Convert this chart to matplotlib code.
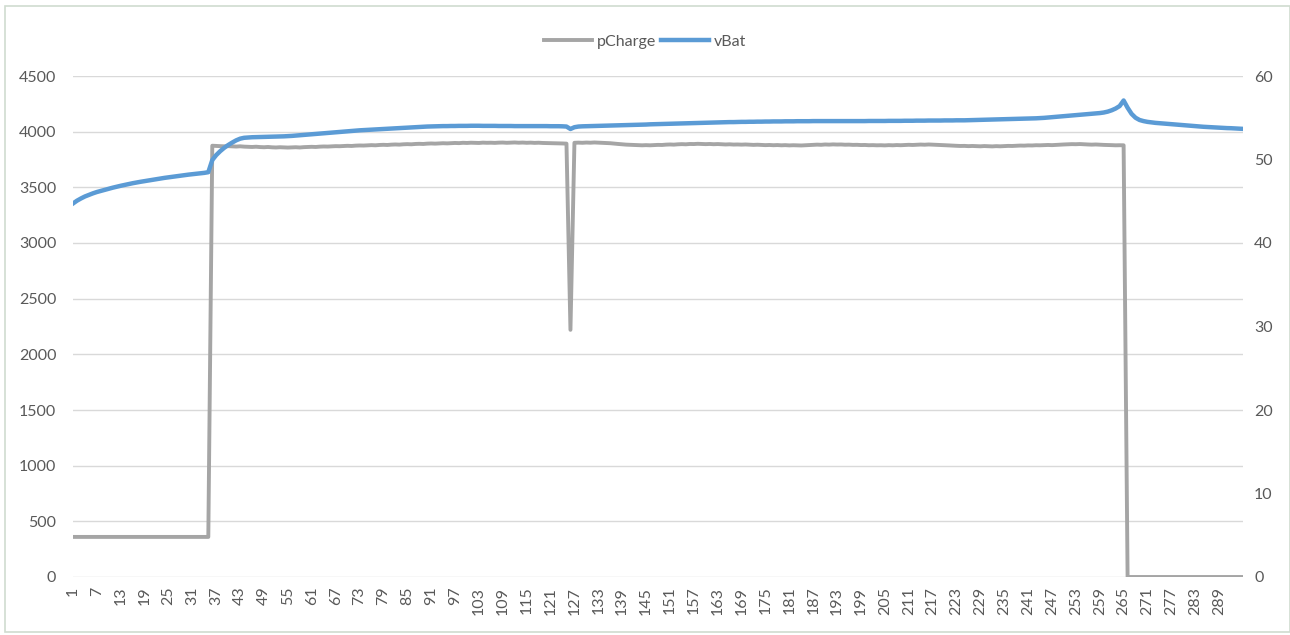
import numpy as np
import matplotlib
matplotlib.use("Agg")
from matplotlib import pyplot as plt
from matplotlib.patches import Rectangle

plt.rcParams['font.family'] = ['Lato', 'DejaVu Sans']

TEXT = '#595959'
GRID = '#D9D9D9'
BLUE = '#5B9BD5'
GRAY = '#A5A5A5'

# battery voltage (mV), left axis
vBat = [
    3355, 3380, 3400, 3418, 3432, 3446, 3458, 3468, 3478, 3488,
    3497, 3506, 3514, 3522, 3530, 3537, 3544, 3550, 3556, 3562,
    3568, 3574, 3580, 3585, 3590, 3595, 3600, 3605, 3610, 3614,
    3618, 3622, 3626, 3630, 3636,
    3745, 3790, 3825, 3855, 3880, 3902, 3922, 3937, 3945, 3948,
    3950, 3951, 3952, 3953, 3954, 3955, 3956, 3957, 3958, 3960,
    3962, 3965, 3968, 3971, 3974, 3977, 3980, 3983, 3986, 3989,
    3992, 3995, 3998, 4001, 4004, 4007, 4010, 4012, 4014, 4016,
    4018, 4020, 4022, 4024, 4026, 4028, 4030, 4032, 4034, 4036,
    4038, 4040, 4042, 4044, 4046, 4047, 4048, 4049, 4050, 4050,
    4051, 4051, 4052, 4052, 4052, 4053, 4053, 4053, 4052, 4052,
    4052, 4052, 4051, 4051, 4051, 4051, 4050, 4050, 4050, 4050,
    4050, 4050, 4050, 4050, 4050, 4049, 4049, 4049, 4048, 4046,
    4024,
    4040, 4046, 4048, 4049, 4050, 4051, 4052, 4053, 4054, 4055,
    4056, 4057, 4058, 4059, 4060, 4061, 4062, 4063, 4064, 4066,
    4067, 4068, 4069, 4070, 4071, 4072, 4073, 4074, 4075, 4076,
    4077, 4078, 4079, 4080, 4081, 4082, 4083, 4084, 4085, 4086,
    4086, 4087, 4088, 4088, 4089, 4089, 4090, 4090, 4091, 4091,
    4092, 4092, 4092, 4093, 4093, 4093, 4094, 4094, 4094, 4094,
    4095, 4095, 4095, 4095, 4095, 4095, 4095, 4095, 4095, 4095,
    4095, 4095, 4095, 4095, 4096, 4096, 4096, 4096, 4096, 4097,
    4097, 4097, 4097, 4098, 4098, 4098, 4099, 4099, 4099, 4100,
    4100, 4100, 4100, 4101, 4101, 4101, 4102, 4102, 4102, 4103,
    4104, 4105, 4106, 4107, 4108, 4109, 4110, 4111, 4112, 4113,
    4114, 4115, 4116, 4117, 4118, 4119, 4120, 4122, 4124, 4127,
    4130, 4132, 4135, 4138, 4141, 4144, 4147, 4150, 4153, 4156,
    4159, 4163, 4167, 4172, 4180, 4192, 4208, 4230, 4280,
    4215, 4160, 4125, 4105, 4095, 4088, 4083, 4079, 4076, 4072,
    4069, 4066, 4063, 4060, 4057, 4054, 4051, 4048, 4046, 4044,
    4042, 4040, 4038, 4036, 4034, 4032, 4031, 4029, 4027, 4025,
]

# charge power, right axis
pCharge = [
    4.80, 4.80, 4.81, 4.80, 4.80, 4.79, 4.80, 4.80, 4.81, 4.80,
    4.80, 4.80, 4.79, 4.80, 4.80, 4.80, 4.81, 4.80, 4.80, 4.80,
    4.80, 4.79, 4.80, 4.80, 4.81, 4.80, 4.80, 4.80, 4.79, 4.80,
    4.80, 4.80, 4.81, 4.80, 4.80,
    51.65, 51.62, 51.60, 51.58, 51.60, 51.57, 51.55, 51.58, 51.54, 51.52,
    51.50, 51.53, 51.49, 51.47, 51.50, 51.46, 51.44, 51.47, 51.45, 51.43,
    51.45, 51.47, 51.44, 51.48, 51.50, 51.52, 51.50, 51.54, 51.56, 51.55,
    51.58, 51.60, 51.59, 51.62, 51.64, 51.62, 51.66, 51.68, 51.67, 51.70,
    51.72, 51.70, 51.74, 51.76, 51.74, 51.78, 51.80, 51.78, 51.82, 51.84,
    51.82, 51.86, 51.88, 51.86, 51.90, 51.92, 51.90, 51.93, 51.95, 51.93,
    51.96, 51.98, 51.96, 52.00, 51.98, 52.01, 52.00, 51.98, 52.02, 52.00,
    52.01, 51.99, 52.02, 52.03, 52.00, 52.02, 52.04, 52.01, 52.03, 52.00,
    52.02, 51.99, 52.01, 51.98, 51.97, 51.95, 51.96, 51.93, 51.92, 51.90,
    29.6,
    52.00, 52.02, 52.00, 52.03, 52.01, 52.04, 52.02, 52.00, 51.98, 51.95,
    51.90, 51.86, 51.82, 51.78, 51.76, 51.73, 51.72, 51.70, 51.72, 51.70,
    51.72, 51.75, 51.74, 51.78, 51.80, 51.78, 51.82, 51.84, 51.82, 51.86,
    51.85, 51.88, 51.86, 51.84, 51.86, 51.83, 51.85, 51.82, 51.80, 51.82,
    51.79, 51.80, 51.78, 51.80, 51.77, 51.75, 51.77, 51.74, 51.72, 51.74,
    51.71, 51.73, 51.70, 51.72, 51.69, 51.71, 51.70, 51.68, 51.71, 51.73,
    51.75, 51.78, 51.76, 51.80, 51.78, 51.81, 51.79, 51.80, 51.77, 51.78,
    51.75, 51.76, 51.73, 51.74, 51.71, 51.72, 51.70, 51.71, 51.69, 51.72,
    51.70, 51.73, 51.71, 51.74, 51.76, 51.74, 51.77, 51.79, 51.77, 51.80,
    51.78, 51.76, 51.74, 51.71, 51.69, 51.66, 51.64, 51.62, 51.63, 51.60,
    51.62, 51.60, 51.58, 51.61, 51.59, 51.57, 51.60, 51.58, 51.61, 51.63,
    51.62, 51.65, 51.67, 51.66, 51.69, 51.68, 51.71, 51.70, 51.72, 51.74,
    51.72, 51.75, 51.77, 51.80, 51.82, 51.84, 51.83, 51.85, 51.82, 51.80,
    51.78, 51.80, 51.77, 51.75, 51.74, 51.72, 51.70, 51.71, 51.70,
    0, 0, 0, 0, 0, 0, 0, 0, 0, 0,
    0, 0, 0, 0, 0, 0, 0, 0, 0, 0,
    0, 0, 0, 0, 0, 0, 0, 0, 0, 0,
]

left_ticks = [0, 500, 1000, 1500, 2000, 2500, 3000, 3500, 4000, 4500]
right_ticks = [0, 10, 20, 30, 40, 50, 60]

n = len(vBat)
x = np.arange(1, n + 1)
xticks = np.arange(1, n, 6)   # 1, 7, ... 289

fig = plt.figure(figsize=(12.9, 6.35), dpi=100)
fig.patches.append(Rectangle((5 / 1290, 0.004), 1 - 5 / 1290, 1 - 6 / 635 - 0.004,
                             transform=fig.transFigure, fill=False,
                             edgecolor='#D0DCD0', linewidth=1.2))

ax = fig.add_axes([73 / 1290, 1 - 577 / 635, (1243 - 73) / 1290, (577 - 76) / 635])
ax2 = ax.twinx()

ax.set_ylim(0, 4500)
ax.set_yticks(left_ticks)
ax2.set_ylim(0, 60)
ax2.set_yticks(right_ticks)
ax.set_xlim(1, n)
ax.set_xticks(xticks)
ax.set_xticklabels([str(v) for v in xticks], rotation=90, va='top')

ax.grid(axis='y', color=GRID, linewidth=1)
ax.set_axisbelow(True)
for a in (ax, ax2):
    for s in a.spines.values():
        s.set_visible(False)
    a.tick_params(length=0, colors=TEXT, labelsize=11.5)
ax.tick_params(axis='y', pad=12)
ax.tick_params(axis='x', pad=7)
ax2.tick_params(axis='y', pad=8)

l1, = ax2.plot(x, pCharge, color=GRAY, linewidth=2.8, solid_joinstyle='round', label='pCharge')
l2, = ax2.plot(x, np.array(vBat) * 60 / 4500, color=BLUE, linewidth=3.2,
               solid_joinstyle='round', label='vBat')

fig.legend(handles=[l1, l2], loc='upper center', bbox_to_anchor=(0.5, 0.968), ncol=2,
           frameon=False, fontsize=11.5, handlelength=3.0, handletextpad=0.3,
           columnspacing=0.3, labelcolor=TEXT)

fig.savefig('out.png', dpi=100)
